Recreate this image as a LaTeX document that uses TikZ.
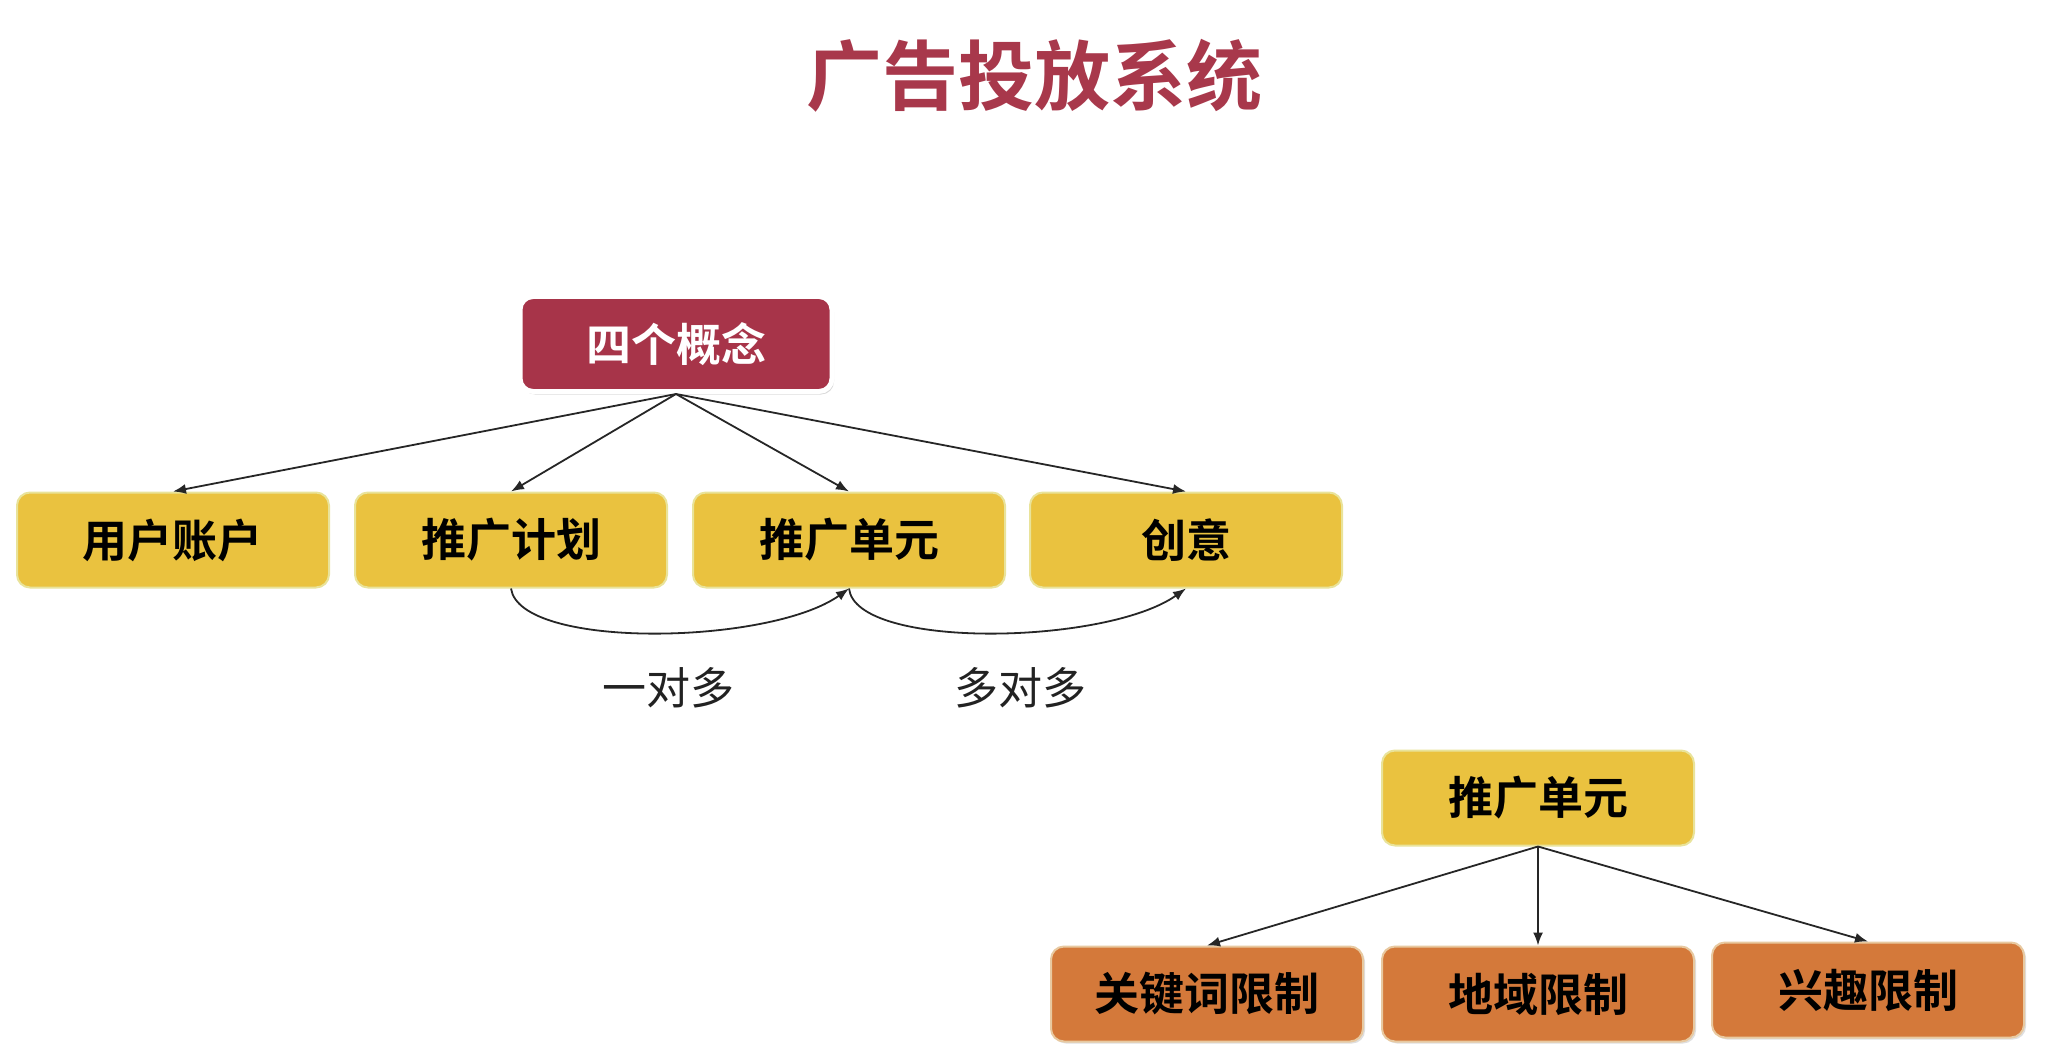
\documentclass[tikz,border=0pt]{standalone}
\usepackage{fontspec}
\setmainfont{Noto Sans CJK SC}[BoldFont={Noto Sans CJK SC Bold}]
\usetikzlibrary{shadows,arrows.meta}
\definecolor{ybox}{HTML}{EAC23F}
\definecolor{yedge}{HTML}{E9E39A}
\definecolor{obox}{HTML}{D4793A}
\definecolor{oedge}{HTML}{E8C9A0}
\definecolor{rbox}{HTML}{A73449}
\definecolor{ttl}{HTML}{A8384B}
\definecolor{lbl}{HTML}{222222}
\tikzset{
  basebox/.style={rounded corners=6.5pt, minimum width=156pt, minimum height=47.5pt,
    inner sep=0pt, font=\fontsize{22.5pt}{27pt}\selectfont\bfseries},
  ybox/.style={basebox, fill=ybox, draw=yedge, line width=1pt},
  obox/.style={basebox, fill=obox, draw=oedge, line width=1pt, drop shadow={opacity=0.25, shadow xshift=1pt, shadow yshift=-1pt}},
  rbox/.style={basebox, fill=rbox, draw=white, line width=2.5pt, text=white,
    drop shadow={opacity=0.3, shadow xshift=1pt, shadow yshift=-1.5pt}},
  conn/.style={draw=black!85, line width=0.9pt, -{Latex[length=6.5pt,width=5pt]}},
  relabel/.style={font=\fontsize{22pt}{26pt}\selectfont, text=lbl},
  ttlstyle/.style={font=\fontsize{38pt}{44pt}\selectfont\bfseries, text=ttl}
}
\begin{document}
\begin{tikzpicture}[x=0.5pt,y=-0.5pt]
\useasboundingbox[fill=white] (0,0) rectangle (2046,1064);
\node[ttlstyle] (title) at (1034,76) {广告投放系统};

\node[rbox] (concept) at (676,344) {四个概念};
\node[ybox] (acct) at (173,540) {用户账户};
\node[ybox] (plan) at (511,540) {推广计划};
\node[ybox] (unit) at (849,540) {推广单元};
\node[ybox] (idea) at (1186,540) {创意};

\draw[conn] (concept.south) -- (acct.north);
\draw[conn] (concept.south) -- (plan.north);
\draw[conn] (concept.south) -- (unit.north);
\draw[conn] (concept.south) -- (idea.north);

\draw[conn] (plan.south) .. controls (520,650) and (770,645) .. (unit.south);
\draw[conn] (unit.south) .. controls (856,650) and (1106,645) .. (idea.south);

\node[relabel] (one2many) at (668,688) {一对多};
\node[relabel] (many2many) at (1020,688) {多对多};

\node[ybox] (unit2) at (1538,798) {推广单元};
\node[obox] (kw) at (1207,994) {关键词限制};
\node[obox] (geo) at (1538,994) {地域限制};
\node[obox] (intr) at (1868,990) {兴趣限制};

\draw[conn] (unit2.south) -- (kw.north);
\draw[conn] (unit2.south) -- (geo.north);
\draw[conn] (unit2.south) -- (intr.north);
\end{tikzpicture}
\end{document}
